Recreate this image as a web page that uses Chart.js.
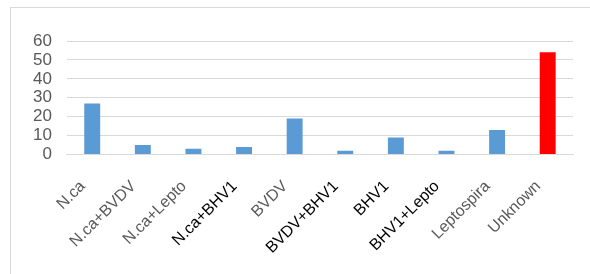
<!DOCTYPE html>
<html>
<head>
<meta charset="utf-8">
<script src="https://cdn.jsdelivr.net/npm/chart.js@4"></script>
<style>
  html, body { margin: 0; padding: 0; background: #fff; }
  #wrap { position: relative; width: 590px; height: 274px; overflow: hidden; }
  #frame {
    position: absolute; left: 10px; top: 7px; width: 620px; height: 300px;
    border: 1px solid #d9d9d9; box-sizing: border-box;
  }
  #mainChart { position: absolute; left: 0; top: 0; }
</style>
</head>
<body>
<div id="wrap">
  <div id="frame"></div>
  <canvas id="mainChart" width="590" height="274"></canvas>
</div>
<script>
const categories = [
  "N.ca", "N.ca+BVDV", "N.ca+Lepto", "N.ca+BHV1", "BVDV",
  "BVDV+BHV1", "BHV1", "BHV1+Lepto", "Leptospira", "Unknown",
];
const counts = [27, 5, 3, 4, 19, 2, 9, 2, 13, 54];

// Excel left some labels black, the rest grey
const labelColors = [
  "#595959", "#595959", "#595959", "#000000", "#595959",
  "#000000", "#000000", "#000000", "#595959", "#595959",
];
const barColors = counts.map((v, i) =>
  categories[i] === "Unknown" ? "#ff0000" : "#5b9bd5"
);

function initChart() {
  const ctx = document.getElementById("mainChart").getContext("2d");
  new Chart(ctx, {
    type: "bar",
    data: {
      labels: categories,
      datasets: [
        {
          data: counts,
          backgroundColor: barColors,
          borderWidth: 0,
          categoryPercentage: 1,
          barPercentage: 0.315,
        },
      ],
    },
    options: {
      responsive: false,
      animation: false,
      layout: {
        padding: { left: 18, right: 17, top: 41, bottom: 6 },
      },
      plugins: {
        legend: { display: false },
        tooltip: { enabled: false },
      },
      scales: {
        x: {
          grid: { display: false, drawTicks: false },
          border: { display: true, color: "#d9d9d9", width: 1 },
          ticks: {
            color: (c) => labelColors[c.index],
            font: { family: "Liberation Sans", size: 16 },
            minRotation: 45,
            maxRotation: 45,
            padding: 13,
            autoSkip: false,
            // trailing spaces push the rotated text down-left of the tick, like Excel
            callback: function (value) {
              return this.getLabelForValue(value) + "   ";
            },
          },
        },
        y: {
          min: 0,
          max: 60,
          grid: { color: "#d9d9d9", lineWidth: 1, drawTicks: false },
          border: { display: false },
          ticks: {
            stepSize: 10,
            autoSkip: false,
            color: "#595959",
            font: { family: "Liberation Sans", size: 17 },
            padding: 15,
          },
        },
      },
    },
  });
}

document.addEventListener("DOMContentLoaded", initChart);
</script>
</body>
</html>
